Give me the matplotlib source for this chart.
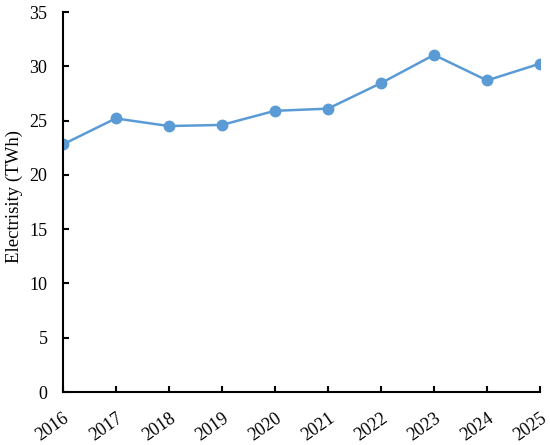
import matplotlib
matplotlib.use("Agg")
import matplotlib.pyplot as plt
from matplotlib.transforms import ScaledTranslation

years = ["2016", "2017", "2018", "2019", "2020", "2021", "2022", "2023", "2024", "2025"]
electricity = [22.8, 25.2, 24.5, 24.6, 25.9, 26.1, 28.45, 31.05, 28.7, 30.25]
yticks = [0, 5, 10, 15, 20, 25, 30, 35]

plt.rcParams['font.family'] = ['Liberation Serif', 'DejaVu Serif']

fig = plt.figure(figsize=(5.5, 4.45), dpi=100)
ax = fig.add_axes([0.114, 0.119, 0.868, 0.854])
x = list(range(len(years)))
ax.plot(x, electricity, color='#5B9BD5', linewidth=1.8, marker='o', markersize=7.5)
ax.set_xlim(0, len(years) - 1)
ax.set_ylim(0, 35)
ax.set_yticks(yticks)
ax.set_xticks(x)
ax.set_xticklabels(years, rotation=35, ha='right', va='top', rotation_mode='anchor')
offset = ScaledTranslation(-8 / 100, 0, fig.dpi_scale_trans)
for lbl in ax.get_xticklabels():
    lbl.set_transform(lbl.get_transform() + offset)
for s in ['top', 'right']:
    ax.spines[s].set_visible(False)
for s in ['left', 'bottom']:
    ax.spines[s].set_linewidth(1.5)
    ax.spines[s].set_color('black')
ax.tick_params(axis='both', direction='in', length=4, width=1.5, labelsize=13, colors='black')
ax.tick_params(axis='y', pad=11)
ax.tick_params(axis='x', pad=12.5)
ax.set_ylabel('Electrisity (TWh)', fontsize=13.5)
ax.yaxis.set_label_coords(-0.083, 0.515)
fig.savefig('out.png', dpi=100)
